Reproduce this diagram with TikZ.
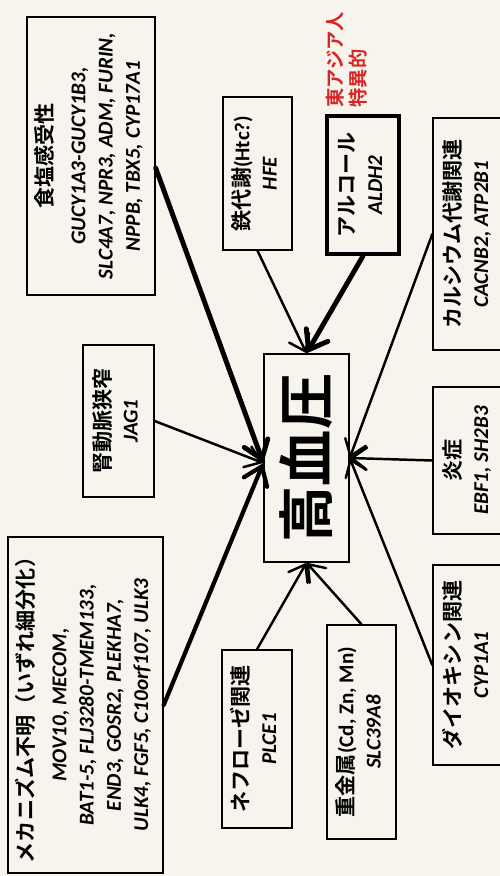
\documentclass[tikz,border=0pt]{standalone}
\usepackage{fontspec}
\usepackage{graphicx}
\usepackage{xcolor}
\usetikzlibrary{arrows.meta}
\newfontfamily\jpfont{Noto Sans CJK JP Bold}
\newfontfamily\genefont{Carlito}
\definecolor{paper}{RGB}{246,244,236}
\definecolor{accent}{RGB}{214,38,38}
\newcommand{\jp}[1]{{\jpfont #1}}
\newcommand{\gn}[1]{{\genefont\bfseries\itshape #1}}
\newcommand{\lat}[1]{{\genefont\bfseries #1}}
\newcommand{\vtext}[1]{\rotatebox{90}{\begin{tabular}{@{}c@{}}#1\end{tabular}}}

\tikzset{
	factor/.style={draw, line width=0.8pt, inner sep=0pt, font=\fontsize{12}{15.5}\selectfont},
	link/.style={line width=1.4pt, line cap=round, -{Straight Barb[length=3mm, width=4.4mm, line cap=round]}},
	heavylink/.style={link, line width=2.8pt, -{Straight Barb[length=3.4mm, width=5mm, line cap=round]}}
}

\begin{document}
\begin{tikzpicture}[x=0.02cm, y=-0.02cm]
				\fill[paper] (0,0) rectangle (500,876);
				\useasboundingbox (0,0) rectangle (500,876);
				% factor boxes
				\node[factor, minimum width=2.56cm, minimum height=5.56cm] (salt) at (91,156)
					{\vtext{\jp{食塩感受性}\\[3pt] \gn{GUCY1A3-GUCY1B3,}\\ \gn{SLC4A7, NPR3, ADM, FURIN,}\\ \gn{NPPB, TBX5, CYP17A1}}};
				\node[factor, minimum width=1.38cm, minimum height=3.06cm] (iron) at (257.5,173.5)
					{\vtext{\jp{鉄代謝}\lat{(Htc?)}\\ \gn{HFE}}};
				\node[factor, line width=2.2pt, minimum width=1.44cm, minimum height=2.76cm] (alcohol) at (363,185)
					{\vtext{\jp{アルコール}\\ \gn{ALDH2}}};
				\node[anchor=south, inner sep=0pt, text=accent, font=\fontsize{11}{13}\selectfont] (eastasia) at (349,108)
					{\rotatebox{90}{\begin{tabular}{@{}l@{}}\jp{東アジア人}\\ \jp{特異的}\end{tabular}}};
				\node[factor, minimum width=1.44cm, minimum height=4.64cm] (calcium) at (469,234)
					{\vtext{\jp{カルシウム代謝関連}\\ \gn{CACNB2, ATP2B1}}};
				\node[factor, minimum width=1.42cm, minimum height=3.04cm] (renal) at (118.5,421)
					{\vtext{\jp{腎動脈狭窄}\\ \gn{JAG1}}};
				\node[factor, minimum width=1.7cm, minimum height=4.16cm] (hbp) at (306.5,458)
					{\rotatebox{90}{\jp{\fontsize{32}{36}\selectfont 高血圧}}};
				\node[factor, minimum width=1.44cm, minimum height=2.94cm] (inflam) at (469,460.5)
					{\vtext{\jp{炎症}\\ \gn{EBF1, SH2B3}}};
				\node[factor, minimum width=1.44cm, minimum height=4cm] (dioxin) at (469,665)
					{\vtext{\jp{ダイオキシン関連}\\ \gn{CYP1A1}}};
				\node[factor, minimum width=3.1cm, minimum height=6.72cm] (unknown) at (85.5,705)
					{\vtext{\jp{メカニズム不明（いずれ細分化）}\\[3pt] \gn{MOV10, MECOM,}\\ \gn{BAT1-5, FLJ3280-TMEM133,}\\ \gn{END3, GOSR2, PLEKHA7,}\\ \gn{ULK4, FGF5, C10orf107, ULK3}}};
				\node[factor, minimum width=1.4cm, minimum height=3.56cm] (nephro) at (257,739)
					{\vtext{\jp{ネフローゼ関連}\\ \gn{PLCE1}}};
				\node[factor, minimum width=1.38cm, minimum height=4.28cm] (metal) at (361.5,732)
					{\vtext{\jp{重金属}\lat{(Cd, Zn, Mn)}\\ \gn{SLC39A8}}};
				% where the arrows meet the centre box
				\coordinate (hbpL) at ([yshift=-0.1cm]hbp.west);
				\coordinate (hbpR) at (hbp.east);
				\coordinate (hbpT) at (hbp.north);
				\coordinate (hbpB) at (hbp.south);
				% arrows
				\draw[heavylink] ([yshift=-0.24cm]salt.east) -- (hbpL);
				\draw[link] (renal.east) -- (hbpL);
				\draw[heavylink, line width=2.4pt] (unknown.east) -- (hbpL);
				\draw[link] (iron.south) -- (hbpT);
				\draw[heavylink] (alcohol.south) -- (hbpT);
				\draw[link] (calcium.west) -- (hbpR);
				\draw[link] (inflam.west) -- (hbpR);
				\draw[link] (dioxin.west) -- (hbpR);
				\draw[link] (nephro.north) -- (hbpB);
				\draw[link] (metal.north) -- (hbpB);
			\end{tikzpicture}
\end{document}
